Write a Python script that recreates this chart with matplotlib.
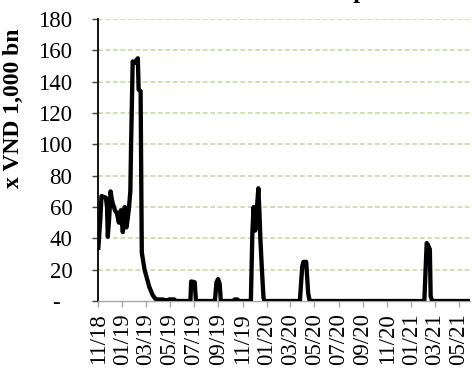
import matplotlib
matplotlib.use('Agg')
import matplotlib.pyplot as plt
import matplotlib.dates as mdates
import numpy as np
import pandas as pd

plt.rcParams['font.family'] = ['Liberation Serif', 'DejaVu Serif']

# daily outstanding at the turning points
dates = [
    '2018-11-01', '2018-11-06', '2018-11-09', '2018-11-20', '2018-11-23', '2018-11-25',
    '2018-11-29', '2018-12-02', '2018-12-05', '2018-12-08', '2018-12-13', '2018-12-18',
    '2018-12-23', '2018-12-28', '2019-01-02', '2019-01-07', '2019-01-11', '2019-01-14',
    '2019-01-17', '2019-01-21', '2019-01-23', '2019-01-27', '2019-02-01', '2019-02-03',
    '2019-02-09', '2019-02-11', '2019-02-16', '2019-02-19', '2019-02-26', '2019-03-10',
    '2019-03-18', '2019-03-25', '2019-03-30', '2019-04-12', '2019-04-24',
    '2019-04-29', '2019-05-12', '2019-05-17',
    '2019-06-22', '2019-06-24', '2019-07-03', '2019-07-06',
    '2019-08-23', '2019-08-27', '2019-08-31', '2019-09-04', '2019-09-07',
    '2019-10-09', '2019-10-12', '2019-10-19', '2019-10-22',
    '2019-11-22', '2019-11-26', '2019-11-29', '2019-12-03', '2019-12-06', '2019-12-11',
    '2019-12-14', '2019-12-16', '2019-12-20', '2019-12-24', '2019-12-27',
    '2020-03-25', '2020-03-31', '2020-04-03', '2020-04-10', '2020-04-15', '2020-04-19',
    '2021-02-03', '2021-02-07', '2021-02-09', '2021-02-12', '2021-02-15', '2021-02-17',
    '2021-02-19', '2021-02-23', '2021-05-28',
]
values = [
    34, 52, 67, 66, 60, 41,
    55, 70, 65, 62, 58, 56,
    50, 58, 44, 60, 47, 52,
    58, 70, 101, 153, 152, 153,
    155, 135, 134, 31, 20, 9,
    4, 1.5, 1, 1, 0.3,
    1, 1, 0,
    0, 12.5, 12, 0,
    0, 12, 14, 11, 0,
    0, 1, 1, 0,
    0, 45, 60, 45, 55, 72,
    55, 40, 20, 2, 0,
    0, 22, 25, 25, 5, 0,
    0, 25, 37, 36, 34, 33,
    3, 0, 0,
]
y_ticks = [0, 20, 40, 60, 80, 100, 120, 140, 160, 180]
y_tick_labels = ['-  ', '20', '40', '60', '80', '100', '120', '140', '160', '180']
y_label = 'x VND 1,000 bn'
title = 'Net OMO repo'

dates = pd.to_datetime(dates)

fig = plt.figure(figsize=(4.75, 3.68), dpi=100)
ax = fig.add_axes([0.207, 0.182, 0.782, 0.766])

for v in y_ticks[1:]:
    ax.axhline(v, color='#c4d79b', lw=1.1, linestyle=(0, (3.1, 1.8)), zorder=1)

ax.plot(dates, values, color='black', lw=3.1, zorder=3, solid_joinstyle='round')

ax.set_ylim(0, 180)
ax.set_xlim(pd.Timestamp('2018-11-01'), pd.Timestamp('2021-05-29'))
ax.set_yticks(y_ticks)
ax.set_yticklabels(y_tick_labels)

ax.xaxis.set_major_locator(mdates.MonthLocator(bymonth=[1, 3, 5, 7, 9, 11]))
ax.xaxis.set_major_formatter(mdates.DateFormatter('%m/%y'))

for s in ['top', 'right']:
    ax.spines[s].set_visible(False)
ax.spines['left'].set_color('black')
ax.spines['left'].set_linewidth(1.3)
ax.spines['bottom'].set_color('#a6a6a6')
ax.spines['bottom'].set_linewidth(1.0)

ax.tick_params(axis='y', length=4.3, width=1.0, color='#404040', pad=14.4, labelsize=16.5)
ax.tick_params(axis='x', length=4.3, width=1.0, color='#a6a6a6', pad=4.3, labelsize=16.5,
               labelrotation=90)

fig.text(0.039, 0.707, y_label, rotation=90, rotation_mode='anchor', ha='center',
         va='baseline', fontsize=17, fontweight='bold')
fig.text(0.469, 1.006, title, ha='left', va='baseline', fontsize=17.5, fontweight='bold')

fig.savefig('out.png', dpi=100)
